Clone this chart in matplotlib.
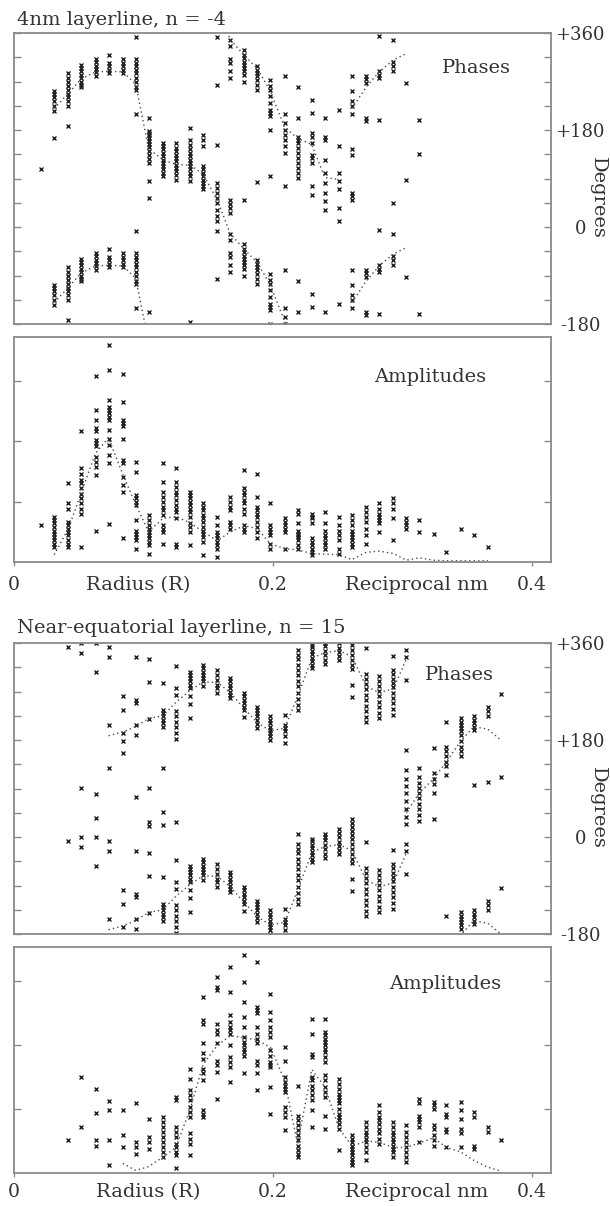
import matplotlib
matplotlib.use("Agg")
import matplotlib.pyplot as plt
import numpy as np

nan = float("nan")

# ===========================
# Data
# ===========================
# sample radii in reciprocal nm, one per column of points
radius = [0.021, 0.031, 0.042, 0.052, 0.063, 0.073, 0.084, 0.094, 0.104, 0.115,
          0.125, 0.136, 0.146, 0.157, 0.167, 0.178, 0.188, 0.198, 0.209, 0.219,
          0.230, 0.240, 0.251, 0.261, 0.272, 0.282, 0.293, 0.303, 0.313, 0.324,
          0.334, 0.345, 0.355, 0.366, 0.376]

# 4nm layerline, n = -4 : phases (degrees, -180..180) per radius column
phase_a = [
    [108],
    [-108, -113, -118, -127, -136, -144, 165],
    [-75, -83, -91, -99, -105, -113, -119, -127, -135, -172],
    [-59, -65, -71, -77, -83, -90, -96, -100],
    [-48, -54, -61, -67, -73, -79],
    [-40, -56, -62, -68, -74],
    [-48, -56, -62, -68, -75],
    [-8, -49, -55, -62, -68, -75, -83, -91, -100, -106, -151],
    [-158, 178, 174, 170, 165, 160, 154, 148, 141, 134, 126, 118, 85, 54],
    [156, 150, 144, 138, 132, 125, 119, 113, 107, 101, 94],
    [156, 147, 141, 134, 128, 122, 116, 110, 104, 97, 88],
    [-176, 162, 153, 144, 138, 132, 125, 119, 113, 107, 101, 94, 85],
    [171, 162, 150, 113, 107, 101, 94, 88, 82, 76, 70],
    [-8, -96, 153, 82, 73, 63, 54, 45, 32, 20, 11],
    [-12, -24, -49, -56, -71, -83, 51, 42, 36, 26],
    [-31, -40, -46, -53, -59, -65, -71, -77, -90, 51],
    [-62, -68, -74, -80, -87, -96, -105, 83],
    [-87, -99, -105, -117, -130, -142, -148, -154, -179, 94],
    [-80, -151, -167, -179, 171, 162, 150, 138, 76],
    [-100, -158, 168, 162, 156, 147, 138, 129, 119, 110, 100, 91],
    [-124, -148, 175, 168, 156, 134, 128, 119, 76, 60],
    [-158, 168, 162, 125, 100, 82, 63, 48, 32],
    [-142, 150, 100, 85, 70, 36, 11],
    [-79, -108, -127, -135, -150, 144, 134, 64, 57, 51],
    [-79, -86, -93, -158, -164],
    [-6, -71, -77, -84, -161],
    [-12, -53, -62, -71, 44],
    [-93, 88],
    [-162, 136],
    [], [], [], [], [], [],
]

# mean phase curve (unwrapped), two pieces
phase_fit_a1 = [nan, -140, -112, -85, -72, -71, -72, -95, -215, -235, -244, -245,
                -262, -310, -372, -402, -426, -468, -535, -555, -567, -628, -632,
                nan, nan, nan, nan, nan, nan, nan, nan, nan, nan, nan, nan]
phase_fit_a2 = [nan, nan, nan, nan, nan, nan, nan, nan, nan, nan, nan, nan,
                nan, nan, nan, nan, nan, nan, nan, nan, nan, nan, nan,
                -140, -100, -72, -50, -38, nan, nan, nan, nan, nan, nan, nan]

# 4nm layerline amplitudes (arbitrary units)
amp_a = [
    [0.61],
    [0.75, 0.69, 0.64, 0.58, 0.52, 0.47, 0.41, 0.36, 0.30, 0.25],
    [1.31, 0.97, 0.88, 0.66, 0.61, 0.55, 0.50, 0.44, 0.36, 0.30, 0.25],
    [2.17, 1.56, 1.45, 1.35, 1.30, 1.22, 1.13, 1.05, 0.97, 0.88, 0.80, 0.25],
    [3.08, 2.51, 2.35, 2.21, 2.17, 2.02, 1.96, 1.91, 1.74, 1.66, 1.57, 1.44, 0.51],
    [3.59, 3.17, 2.68, 2.57, 2.51, 2.46, 2.40, 2.35, 2.18, 2.04, 1.93, 1.77, 1.63, 0.63],
    [3.11, 2.65, 2.35, 2.29, 2.24, 2.04, 1.69, 1.63, 1.41, 1.27, 1.16, 0.40],
    [1.66, 1.49, 1.10, 1.05, 0.99, 0.94, 0.69, 0.52, 0.47, 0.41, 0.36, 0.22],
    [0.77, 0.69, 0.61, 0.55, 0.50, 0.44, 0.39, 0.33, 0.28, 0.14],
    [1.63, 1.33, 1.16, 1.08, 0.99, 0.91, 0.86, 0.77, 0.61, 0.55, 0.50, 0.30],
    [1.56, 1.33, 1.24, 1.16, 1.10, 1.02, 0.94, 0.88, 0.83, 0.72, 0.30, 0.25],
    [1.16, 1.10, 1.05, 0.99, 0.94, 0.88, 0.83, 0.75, 0.64, 0.58, 0.50, 0.28],
    [0.97, 0.91, 0.86, 0.77, 0.72, 0.66, 0.58, 0.52, 0.47, 0.41, 0.33, 0.11],
    [0.75, 0.61, 0.50, 0.44, 0.39, 0.33, 0.28, 0.22, 0.08],
    [1.08, 0.99, 0.91, 0.86, 0.66, 0.61, 0.55],
    [1.52, 1.22, 1.16, 1.10, 1.02, 0.97, 0.88, 0.80, 0.61, 0.55, 0.50],
    [1.46, 1.08, 0.91, 0.86, 0.80, 0.75, 0.66, 0.58, 0.50, 0.39],
    [0.97, 0.61, 0.55, 0.50, 0.44, 0.30, 0.22],
    [0.72, 0.66, 0.61, 0.55, 0.49, 0.22],
    [0.86, 0.80, 0.64, 0.52, 0.47, 0.44, 0.41, 0.36, 0.28, 0.22],
    [0.80, 0.75, 0.72, 0.64, 0.39, 0.33, 0.28, 0.22, 0.17, 0.11],
    [0.83, 0.64, 0.52, 0.44, 0.39, 0.33, 0.28, 0.22],
    [0.75, 0.61, 0.52, 0.44, 0.36, 0.22, 0.14],
    [0.77, 0.69, 0.61, 0.52, 0.47, 0.41, 0.36, 0.30, 0.25],
    [0.91, 0.83, 0.75, 0.66, 0.55, 0.44, 0.30],
    [0.97, 0.88, 0.80, 0.75, 0.69, 0.64, 0.50],
    [1.06, 0.97, 0.88, 0.72, 0.36],
    [0.72, 0.66, 0.61, 0.55],
    [0.69, 0.50],
    [0.47],
    [0.17],
    [0.55],
    [0.45],
    [0.25],
    [],
]
amp_fit_a = [nan, 0.12, 0.55, 1.15, 1.8, 2.05, 1.45, 0.95, 0.5, 0.72, 0.75, 0.65,
             0.5, 0.35, 0.5, 0.6, 0.55, 0.3, 0.22, 0.2, 0.14, 0.13, 0.12, 0.04,
             0.16, 0.18, 0.14, 0.03, 0.07, 0.03, 0.02, 0.02, 0.02, 0.02, nan]

# Near-equatorial layerline, n = 15 : phases
phase_b = [
    [],
    [],
    [-7],
    [-19, 0, 91],
    [-54, 80, 35, 1],
    [-8, -25, -152, 128],
    [-99, -124, -167, 178, 156],
    [-26, -105, -111, -152, -170, 75],
    [-30, -73, -141, 91, 27, 20],
    [-74, -124, -130, -136, -142, -149, -155, 128, 46, 23],
    [-43, -84, -96, -127, -136, -146, -155, -167, -178, 27],
    [-53, -59, -65, -71, -77, -84, -99, -114, -139],
    [-40, -46, -53, -59, -65, -71, -79],
    [-50, -59, -68, -77, -84, -93],
    [-65, -71, -77, -84, -90, -96, -102],
    [-93, -99, -105, -111, -118, -124, -137],
    [-118, -124, -130, -136, -142, -150, -158],
    [-136, -142, -149, -155, -161, -167, -173, -179],
    [-133, -152, -158, -164, -173, 174],
    [6, -13, -22, -30, -40, -50, -60, -70, -80, -92, -104, -115, -124],
    [-3, -8, -14, -20, -27, -33, -40, -47],
    [6, 0, -6, -15, -22, -31, -38],
    [15, 8, 0, -9, -16, -24, -32],
    [34, 26, 18, 11, 4, -3, -12, -22, -31, -40, -48, -78, -100],
    [-10, -58, -66, -76, -86, -96, -106, -116, -126, -137, -147],
    [-61, -70, -79, -89, -99, -109, -119, -130, -140],
    [-24, -50, -58, -66, -74, -82, -92, -102, -112, -122, -134],
    [-13, -26, -69, 161, 124, 108, 94, 81, 66, 52, 38, 25],
    [129, 112, 100, 91, 82, 72, 62, 52, 41, 30],
    [166, 118, 108, 99, 81, 34],
    [-147, 168, 159, 150, 140, 131, 115],
    [-139, -146, -152, -158, -164, -170, 179, 168, 159, 150],
    [-136, -142, -149, -155, -161, 97],
    [-119, -127, -136, 103],
    [-94, 112],
]
phase_fit_b1 = [nan, nan, nan, nan, nan,
                -172, -165, -155, -140, -135, -110, -88, -72, -73, -92, -122,
                -148, -163, -158, -100, -28, -18, -14, -25, -80, -92, -85, -30,
                nan, nan, nan, nan, nan, nan, nan]
phase_fit_b2 = [nan, nan, nan, nan, nan, nan, nan, nan, nan, nan, nan, nan,
                nan, nan, nan, nan, nan, nan, nan, nan, nan, nan, nan, nan,
                nan, nan, nan,
                45, 82, 108, 140, 178, 205, 200, 180]

# Near-equatorial layerline amplitudes
amp_b = [
    [],
    [],
    [0.52],
    [1.50, 0.72],
    [1.32, 0.94, 0.52, 0.42],
    [1.13, 0.99, 0.52, 0.12],
    [0.99, 0.59, 0.41],
    [1.09, 0.49, 0.41, 0.30],
    [0.84, 0.56, 0.49, 0.38],
    [0.88, 0.80, 0.72, 0.64, 0.56, 0.49, 0.41, 0.33, 0.25],
    [1.19, 1.14, 0.72, 0.64, 0.56, 0.46, 0.41, 0.33, 0.28, 0.08],
    [1.63, 1.48, 1.30, 1.22, 1.14, 1.03, 0.96, 0.88, 0.62, 0.54, 0.46, 0.28],
    [2.75, 2.39, 2.34, 2.03, 1.88, 1.79, 1.63, 1.56, 1.45, 0.98, 0.93, 0.87],
    [3.07, 2.91, 2.86, 2.34, 2.24, 2.18, 2.03, 1.76, 1.69, 1.58, 1.16],
    [3.22, 2.84, 2.47, 2.37, 2.29, 2.24, 2.18, 2.00, 1.82, 1.74, 1.66, 1.43],
    [3.41, 2.99, 2.68, 2.44, 2.29, 2.13, 2.05, 2.00, 1.95, 1.90, 1.84, 1.56],
    [3.31, 2.60, 2.55, 2.50, 2.29, 2.18, 2.10, 2.03, 1.76, 1.69, 1.56, 1.30],
    [2.81, 2.52, 2.39, 2.29, 2.21, 2.13, 1.92, 1.84, 1.74, 1.69, 1.66, 1.35, 0.93],
    [1.97, 1.76, 1.50, 1.43, 1.37, 1.32, 1.27, 1.03, 0.96, 0.88, 0.67],
    [1.37, 0.90, 0.83, 0.75, 0.67, 0.59, 0.51, 0.43, 0.36, 0.30, 0.25],
    [2.42, 2.18, 1.87, 1.82, 1.50, 1.45, 1.37, 1.30, 1.22, 1.14, 0.98, 0.72],
    [2.42, 2.21, 2.16, 2.10, 2.05, 2.00, 1.95, 1.90, 1.82, 1.74, 1.53, 1.45,
     1.35, 1.27, 1.19, 0.90, 0.69],
    [1.48, 1.40, 1.32, 1.24, 1.19, 1.14, 1.09, 1.01, 0.93, 0.88, 0.83, 0.77,
     0.69, 0.36],
    [0.59, 0.54, 0.49, 0.43, 0.38, 0.33, 0.28, 0.22, 0.17, 0.12],
    [0.80, 0.72, 0.64, 0.59, 0.54, 0.49, 0.41, 0.33, 0.20],
    [1.06, 0.96, 0.88, 0.83, 0.77, 0.69, 0.62, 0.54, 0.46],
    [0.80, 0.72, 0.64, 0.59, 0.54, 0.49, 0.43, 0.38, 0.33, 0.25],
    [0.75, 0.64, 0.56, 0.49, 0.41, 0.33, 0.25, 0.17],
    [1.16, 1.09, 0.90, 0.85, 0.80, 0.72, 0.49],
    [1.11, 1.06, 1.01, 0.75, 0.69, 0.59, 0.51, 0.43],
    [1.06, 0.93, 0.88, 0.69, 0.64, 0.41],
    [1.11, 0.98, 0.85, 0.69, 0.62, 0.41],
    [0.96, 0.88, 0.43, 0.38],
    [0.72, 0.64],
    [0.52],
]
amp_fit_b = [nan, nan, nan, nan, nan, nan,
             0.15, 0.04, 0.10, 0.25, 0.40, 1.0, 1.7, 2.0, 2.15, 2.12, 2.08,
             1.97, 1.45, 0.45, 1.62, 1.35, 0.7, 0.42, 0.5, 0.48, 0.4, 0.4,
             0.47, 0.55, 0.4, 0.33, 0.2, 0.09, 0.03]

titles = ["4nm layerline, n = -4", "Near-equatorial layerline, n = 15"]
phase_ticks = [-180, -135, -90, -45, 0, 45, 90, 135, 180, 225, 270, 315, 360]
phase_tick_labels = ["-180", "", "", "", "0", "", "", "", "+180", "", "", "", "+360"]
amp_ticks = [1, 2, 3]
x_ticks = [0, 0.2, 0.4]
x_tick_labels = ["0", "0.2", "0.4"]

# ===========================
# Styling
# ===========================
plt.rcParams["font.family"] = ["DejaVu Serif"]
TEXT = "#333333"
FRAME = "#8a8a8a"
MARK = "#222222"
XMAX = 0.4147


def columns_to_points(cols):
    xs, ys = [], []
    for r, vals in zip(radius, cols):
        xs += [r] * len(vals)
        ys += vals
    return np.array(xs), np.array(ys, dtype=float)


def frame(ax):
    for s in ax.spines.values():
        s.set_color(FRAME)
        s.set_linewidth(1.3)
    ax.set_xlim(0, XMAX)
    ax.tick_params(axis="y", which="both", direction="in", length=5, width=1,
                   color=FRAME, left=True, right=True)


def scatter(ax, xs, ys):
    ax.plot(xs, ys, linestyle="none", marker="x", markersize=2.7,
            markeredgewidth=1.0, color=MARK)


def dotted(ax, ys):
    ax.plot(radius, ys, linestyle=(0, (1.0, 2.2)), linewidth=1.0, color="#4a4a4a")


def phase_panel(ax, cols, fits, label_pos):
    frame(ax)
    xs, ys = columns_to_points(cols)
    # phases repeat every 360 degrees; the axis shows -180..360
    for off in (0, 360):
        scatter(ax, xs, ys + off)
    for fit in fits:
        for off in (-360, 0, 360, 720):
            dotted(ax, np.array(fit) + off)
    ax.set_ylim(-180, 360)
    ax.set_xticks([])
    ax.set_yticks(phase_ticks)
    ax.set_yticklabels(phase_tick_labels)
    ax.tick_params(axis="y", labelleft=False, labelright=True, labelsize=13,
                   labelcolor=TEXT, pad=21)
    for lbl in ax.get_yticklabels():
        lbl.set_horizontalalignment("center")
    ax.text(label_pos[0], label_pos[1], "Phases", transform=ax.transAxes,
            ha="center", va="center", fontsize=14, color=TEXT)
    ax.text(1.0875, 0.433, "Degrees", transform=ax.transAxes, rotation=270,
            ha="center", va="center", fontsize=14, color=TEXT)


def amp_panel(ax, cols, fit, ytop, label_pos, word_x, pad):
    frame(ax)
    xs, ys = columns_to_points(cols)
    scatter(ax, xs, ys)
    dotted(ax, fit)
    ax.set_ylim(0, ytop)
    ax.set_yticks(amp_ticks)
    ax.set_yticklabels([])
    ax.set_xticks(x_ticks)
    ax.set_xticklabels(x_tick_labels)
    ax.tick_params(axis="x", direction="out", length=3, width=1, color=FRAME,
                   labelsize=13.5, labelcolor=TEXT, pad=pad)
    ax.text(label_pos[0], label_pos[1], "Amplitudes", transform=ax.transAxes,
            ha="center", va="center", fontsize=14, color=TEXT)
    for x, word in zip(word_x, ["Radius (R)", "Reciprocal nm"]):
        ax.annotate(word, xy=(x, 0), xycoords=("data", "axes fraction"),
                    xytext=(0, -(3 + pad)), textcoords="offset points",
                    ha="center", va="top", fontsize=14, color=TEXT)


fig = plt.figure(figsize=(6.1, 12.06), dpi=100)
ax1 = fig.add_axes([0.02295, 0.7313, 0.8803, 0.2413])
ax2 = fig.add_axes([0.02295, 0.5340, 0.8803, 0.1866])
ax3 = fig.add_axes([0.02295, 0.2255, 0.8803, 0.2413])
ax4 = fig.add_axes([0.02295, 0.02736, 0.8803, 0.1874])

phase_panel(ax1, phase_a, [phase_fit_a1, phase_fit_a2], (0.862, 0.88))
amp_panel(ax2, amp_a, amp_fit_a, 3.72, (0.775, 0.822), (0.096, 0.311), 7)
phase_panel(ax3, phase_b, [phase_fit_b1, phase_fit_b2], (0.83, 0.89))
amp_panel(ax4, amp_b, amp_fit_b, 3.54, (0.803, 0.836), (0.104, 0.311), 4.5)

fig.text(17 / 610, 1 - 25 / 1206, titles[0], ha="left", va="baseline",
         fontsize=14, color=TEXT)
fig.text(17 / 610, 1 - 633 / 1206, titles[1], ha="left", va="baseline",
         fontsize=14, color=TEXT)

fig.savefig("out.png", dpi=100, facecolor="white")
